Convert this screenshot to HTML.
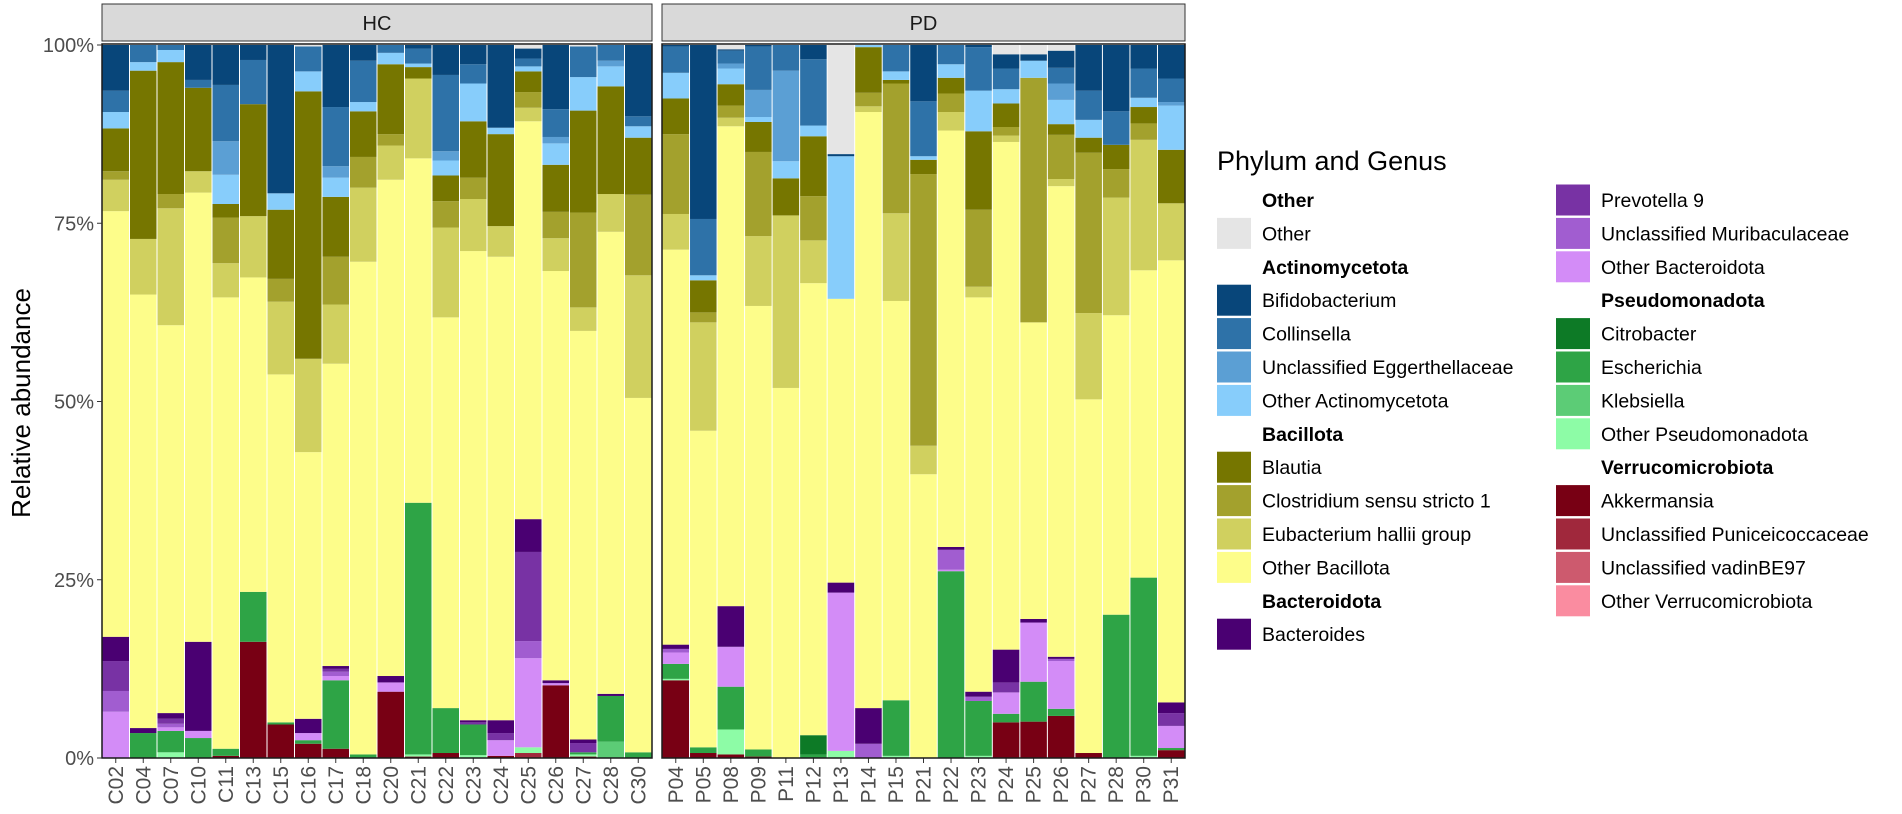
<!DOCTYPE html>
<html><head><meta charset="utf-8"><style>
html,body{margin:0;padding:0;background:#fff;}
svg{display:block;font-family:"Liberation Sans",Arial,sans-serif;}
</style></head><body>
<svg id="chart" width="1902" height="814" viewBox="0 0 1902 814">
<text x="30" y="403" font-size="26" fill="#000" text-anchor="middle" transform="rotate(-90 30 403)">Relative abundance</text>
<g id="plot"></g>
<g id="legend"></g>
</svg>
<script>
const hcSamples = ["C02","C04","C07","C10","C11","C13","C15","C16","C17","C18","C20","C21","C22","C23","C24","C25","C26","C27","C28","C30"];
const pdSamples = ["P04","P05","P08","P09","P11","P12","P13","P14","P15","P21","P22","P23","P24","P25","P26","P27","P28","P30","P31"];
const yTicks = [0,25,50,75,100];
const yTickLabels = ["0%","25%","50%","75%","100%"];
const taxonNames = ["Other","Bifidobacterium","Collinsella","Unclassified Eggerthellaceae","Other Actinomycetota","Blautia","Clostridium sensu stricto 1","Eubacterium hallii group","Other Bacillota","Bacteroides","Prevotella 9","Unclassified Muribaculaceae","Other Bacteroidota","Citrobacter","Escherichia","Klebsiella","Other Pseudomonadota","Akkermansia","Unclassified Puniceicoccaceae","Unclassified vadinBE97","Other Verrucomicrobiota"];
const taxonColors = ["#e5e5e5","#08467a","#2e72a8","#5b9fd4","#87cdfb","#767600","#a3a12d","#d0d05f","#fdfd8a","#4a0072","#7832a4","#a15dd0","#d38cf7","#0d7a26","#2ea446","#5ccc76","#8dfca6","#780014","#a0283c","#cd5a6e","#fa8ca0"];
const vOther = [0,0,0,0,0,0,0,0.2,0,0,0,0,0,0,0,0.5,0,0.2,0,0, 0,0,0.6,0,0,0,15.3,0,0,0,0,0,1.3,1.3,0.8,0,0,0,0];
const vBif = [6.4,0,0,4.9,5.6,2.1,20.8,0,8.7,2.2,0,0.5,4.2,2.7,11.6,1.4,9.0,0,0,10.0, 0.2,24.4,0.2,0.2,0,2.0,0.3,0,0,7.9,0,0.3,2.0,0.9,2.4,6.4,9.3,3.3,4.7];
const vCol = [3.0,2.4,0.7,1.1,7.9,6.2,0,3.5,8.3,5.8,1.1,2.1,10.7,2.7,0,1.1,3.9,4.3,2.2,1.4, 3.7,7.9,1.8,6.1,3.6,9.3,0,0,3.7,7.7,2.7,6.1,2.9,0,2.2,4.1,4.7,4.1,3.3];
const vEgg = [0,0,0,0,4.7,0,0,0,1.6,0,0,0,1.3,0,0,0,0.9,0,0.8,0, 0,0,0.7,3.8,12.7,0,0,0,0,0,0,0,0,0,2.3,0,0,0,0.5];
const vOAct = [2.3,1.2,1.7,0,4.1,0,2.3,2.8,2.7,1.3,1.6,0.5,2.1,5.3,0.9,0.7,3.0,4.7,2.8,1.6, 3.6,0.7,2.2,0.7,2.4,1.5,20.0,0.3,1.2,0.5,1.9,5.7,2.0,2.4,3.4,2.5,0,1.3,6.2];
const vBlau = [6.0,23.6,18.5,11.7,1.9,15.7,9.7,37.5,8.4,6.4,9.8,1.6,3.6,7.9,12.9,2.9,6.6,14.3,15.1,8.0, 5.0,4.5,3.0,4.2,5.2,8.4,0,6.4,0.5,2.0,2.2,11.0,3.3,0,1.5,2.1,3.4,2.3,7.5];
const vClos = [1.2,0,2.0,0,6.4,0,3.2,0,6.7,4.3,1.6,0,3.7,3.0,0,2.2,3.7,13.3,0,11.3, 11.2,1.4,1.7,11.8,0,6.2,0,1.9,18.2,38.1,2.6,10.8,1.2,34.3,6.2,22.5,4.0,2.3,0];
const vEub = [4.4,7.8,16.4,3.0,4.8,8.6,10.2,13.1,8.3,10.4,4.8,11.2,12.6,7.3,4.3,1.9,4.6,3.3,5.3,17.2, 5.0,15.2,1.2,9.8,24.2,6.0,0,0.8,12.3,4.0,2.6,1.5,0.9,0,1.0,12.1,16.5,18.3,8.0];
const vOB = [59.7,60.8,54.4,63.0,63.3,44.1,48.8,37.4,42.4,69.1,69.6,48.3,54.8,65.8,65.0,55.8,57.4,57.3,64.8,49.7, 55.4,44.4,67.3,62.2,51.9,63.4,39.8,83.6,56.0,39.8,58.4,55.3,71.2,41.6,66.0,49.6,42.0,43.1,62.0];
const vBact = [3.4,0.7,0.8,12.5,0,0,0,2.0,0.4,0,0.9,0,0,0.3,1.8,4.6,0.4,0.5,0.3,0, 0.6,0,5.7,0,0,0,1.4,5.0,0,0,0.4,0.7,4.6,0.5,0.3,0,0,0,1.5];
const vPrev = [4.2,0,0.7,0,0,0,0,0,0.4,0,0,0,0,0.3,1.0,12.5,0,1.3,0,0, 0,0,0,0,0,0,0,0,0,0,0,0,1.4,0,0,0,0,0,1.8];
const vMur = [2.9,0,0.5,0,0,0,0,0,0.6,0,0,0,0,0,0,2.4,0,0,0,0, 0.5,0,0,0,0,0,0,2.0,0,0,2.8,0.6,0,0,0.3,0,0,0,0];
const vOBt = [6.5,0,0.5,1.0,0,0,0,1.0,0.6,0,1.3,0,0,0,2.2,12.5,0.3,0,0,0, 1.6,0,5.6,0,0,0,22.2,0,0,0,0.2,0,3.0,8.3,6.7,0,0,0,3.1];
const vCitro = [0,0,0,0,0,0,0,0,0,0,0,0,0,0,0,0,0,0,0,0, 0,0,0,0,0,2.7,0,0,0,0,0,0,0,0,0,0,0,0,0];
const vEsch = [0,3.5,3.0,2.8,1.0,7.0,0.3,0.5,9.6,0.5,0,35.3,6.3,4.3,0,0,0,0.3,6.4,0.8, 2.1,0.8,6.0,1.0,0,0.5,0,0,7.8,0,26.2,7.7,1.2,5.6,1.0,0,20.1,25.0,0.3];
const vKleb = [0,0,0,0,0,0,0,0,0,0,0,0,0,0,0,0,0,0,2.3,0, 0,0,0,0,0,0,0,0,0,0,0,0,0,0,0,0,0,0,0];
const vOPs = [0,0,0.8,0,0,0,0,0,0,0,0,0.3,0,0.4,0,0.8,0,0.3,0,0, 0.2,0,3.5,0,0,0,1.0,0,0.3,0,0,0.3,0,0,0,0,0,0.3,0];
const vAkk = [0,0,0,0,0.3,16.3,4.7,2.0,1.3,0,9.3,0.2,0.7,0,0.3,0,10.2,0.2,0,0, 10.9,0.7,0.5,0.2,0,0,0,0,0,0,0,0,5.0,5.1,5.9,0.7,0,0,1.1];
const vPun = [0,0,0,0,0,0,0,0,0,0,0,0,0,0,0,0.7,0,0,0,0, 0,0,0,0,0,0,0,0,0,0,0,0,0,0,0,0,0,0,0];
const vVad = [0,0,0,0,0,0,0,0,0,0,0,0,0,0,0,0,0,0,0,0, 0,0,0,0,0,0,0,0,0,0,0,0,0,0,0,0,0,0,0];
const vOVerr = [0,0,0,0,0,0,0,0,0,0,0,0,0,0,0,0,0,0,0,0, 0,0,0,0,0,0,0,0,0,0,0,0,0,0,0,0,0,0,0];
const seriesValues = [vOther,vBif,vCol,vEgg,vOAct,vBlau,vClos,vEub,vOB,vBact,vPrev,vMur,vOBt,vCitro,vEsch,vKleb,vOPs,vAkk,vPun,vVad,vOVerr];

const NS="http://www.w3.org/2000/svg";
function mk(tag,attrs,parent){const e=document.createElementNS(NS,tag);for(const k in attrs)e.setAttribute(k,attrs[k]);parent.appendChild(e);return e;}
const plotTop=45, plotBottom=758;
function yScale(p){return plotBottom-(p/100)*(plotBottom-plotTop);}
const plot=document.getElementById('plot');
const panels=[{name:"HC",samples:hcSamples,x0:102,x1:652,offset:0},{name:"PD",samples:pdSamples,x0:662,x1:1185,offset:hcSamples.length}];
panels.forEach(pn=>{
  const g=mk('g',{},plot);
  
  
  const strip=mk('rect',{x:pn.x0,y:4,width:pn.x1-pn.x0,height:37,fill:"#d9d9d9",stroke:"#333","stroke-width":1},g);
  
  
  const st=mk('text',{x:(pn.x0+pn.x1)/2,y:30,"font-size":20,fill:"#1a1a1a","text-anchor":"middle"},g);
  st.textContent=pn.name;
  
  
  const n=pn.samples.length, bw=(pn.x1-pn.x0)/n;
  pn.samples.forEach((s,i)=>{
    const idx=pn.offset+i;
    const bx=pn.x0+i*bw+0.5;
    const bg=mk('g',{},g);
    
    
    let cum=0;
    for(let t=seriesValues.length-1;t>=0;t--){
      const v=seriesValues[t][idx];
      if(!v) continue;
      const yTop=yScale(cum+v), yBot=yScale(cum);
      const r=mk('rect',{x:bx,y:yTop,width:bw-1,height:yBot-yTop,fill:taxonColors[t]},bg);
      
      
      cum+=v;
    }
    const cx=pn.x0+(i+0.5)*bw;
    mk('line',{x1:cx,x2:cx,y1:plotBottom,y2:plotBottom+5,stroke:"#333","stroke-width":1},g);
    const lt=mk('text',{x:cx+7,y:plotBottom+8,"font-size":21,fill:"#4d4d4d","text-anchor":"end",transform:`rotate(-90 ${cx+7} ${plotBottom+8})`},g);
    lt.textContent=s;
    
    
  });
  mk('rect',{x:pn.x0,y:plotTop-1,width:pn.x1-pn.x0,height:plotBottom-plotTop+1,fill:"none",stroke:"#1a1a1a","stroke-width":1.5},g);
});
yTicks.forEach((t,i)=>{
  const y=yScale(t);
  mk('line',{x1:97,x2:102,y1:y,y2:y,stroke:"#333","stroke-width":1},plot);
  const tx=mk('text',{x:94,y:y+7,"font-size":20,fill:"#4d4d4d","text-anchor":"end"},plot);
  tx.textContent=yTickLabels[i];
  
  
});
// legend
const leg=document.getElementById('legend');
const lt=mk('text',{x:1217,y:170,"font-size":27,fill:"#000"},leg);
lt.textContent="Phylum and Genus";


const col1=[["h","Other"],[0],["h","Actinomycetota"],[1],[2],[3],[4],["h","Bacillota"],[5],[6],[7],[8],["h","Bacteroidota"],[9]];
const col2=[[10],[11],[12],["h","Pseudomonadota"],[13],[14],[15],[16],["h","Verrucomicrobiota"],[17],[18],[19],[20]];
[[col1,1217],[col2,1556]].forEach(([col,x])=>{
  col.forEach((it,r)=>{
    const cy=200+r*33.4;
    if(it[0]==="h"){
      const h=mk('text',{x:x+45,y:cy+7,"font-size":19.5,"font-weight":"bold",fill:"#000"},leg);
      h.textContent=it[1];
      
      
    } else {
      const t=it[0];
      const g=mk('g',{},leg);
      
      
      mk('rect',{x:x,y:cy-15.5,width:34,height:31,fill:taxonColors[t]},g);
      const tt=mk('text',{x:x+45,y:cy+7,"font-size":19.5,fill:"#000"},g);
      tt.textContent=taxonNames[t];
    }
  });
});
</script>
</body></html>
